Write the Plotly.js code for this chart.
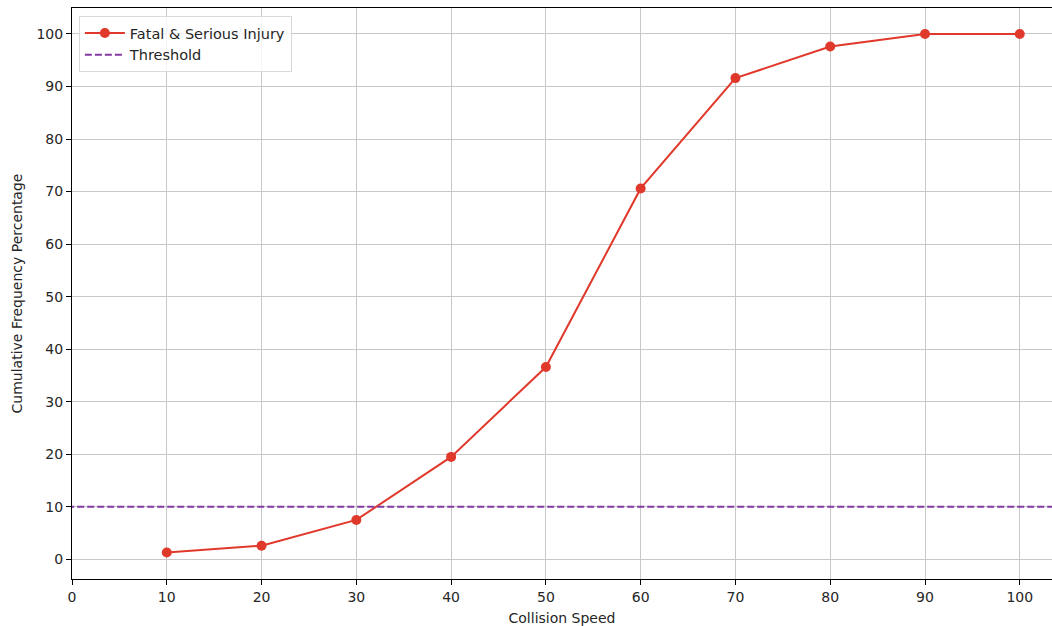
<!DOCTYPE html>
<html>
<head>
<meta charset="utf-8">
<script src="https://cdn.plot.ly/plotly-3.0.1.min.js"></script>
<style>html,body{margin:0;padding:0;background:#fff;}#chart{width:1052px;height:626px;}</style>
</head>
<body>
<div id="chart"></div>
<script>
const speeds = [10, 20, 30, 40, 50, 60, 70, 80, 90, 100];
const fatalSerious = [1.3, 2.6, 7.5, 19.5, 36.6, 70.6, 91.6, 97.6, 100, 100];
const thresholdValue = 10;
const xTicks = [0, 10, 20, 30, 40, 50, 60, 70, 80, 90, 100];
const yTicks = [0, 10, 20, 30, 40, 50, 60, 70, 80, 90, 100];

const font = {family: 'DejaVu Sans', size: 14, color: '#262626'};

const traces = [
  {
    x: speeds, y: fatalSerious, type: 'scatter', mode: 'lines+markers',
    name: 'Fatal &amp; Serious Injury',
    line: {color: '#e0392b', width: 2},
    marker: {color: '#e0392b', size: 10}
  },
  {
    x: [-10, 120], y: [thresholdValue, thresholdValue], type: 'scatter', mode: 'lines',
    name: 'Threshold',
    line: {color: '#8439a3', width: 2, dash: '7px,3px'}
  }
];

const layout = {
  width: 1052, height: 626,
  margin: {l: 72, r: 0, t: 8, b: 47},
  paper_bgcolor: '#fff', plot_bgcolor: '#fff',
  font: font,
  showlegend: true,
  legend: {
    x: 0.007, y: 0.986, xanchor: 'left', yanchor: 'top',
    bgcolor: 'rgba(255,255,255,0.8)', bordercolor: '#d9d9d9', borderwidth: 1,
    font: {family: 'DejaVu Sans', size: 14.5, color: '#262626'},
    tracegroupgap: 0, itemwidth: 40
  },
  xaxis: {
    range: [0, 103.4], tickvals: xTicks, ticktext: xTicks.map(String),
    showgrid: true, gridcolor: '#c8c8c8', gridwidth: 1,
    zeroline: false, showline: true, linecolor: '#000', linewidth: 1, mirror: true,
    ticks: 'outside', ticklen: 5, tickcolor: '#000',
    title: {text: 'Collision Speed', font: font, standoff: 10},
    tickfont: font
  },
  yaxis: {
    range: [-3.74, 104.94], tickvals: yTicks, ticktext: yTicks.map(String),
    showgrid: true, gridcolor: '#c8c8c8', gridwidth: 1,
    zeroline: false, showline: true, linecolor: '#000', linewidth: 1, mirror: false,
    ticks: 'outside', ticklen: 5, tickcolor: '#000',
    title: {text: 'Cumulative Frequency Percentage', font: font, standoff: 10},
    tickfont: font
  }
};

Plotly.newPlot('chart', traces, layout, {displayModeBar: false, staticPlot: true});
</script>
</body>
</html>
